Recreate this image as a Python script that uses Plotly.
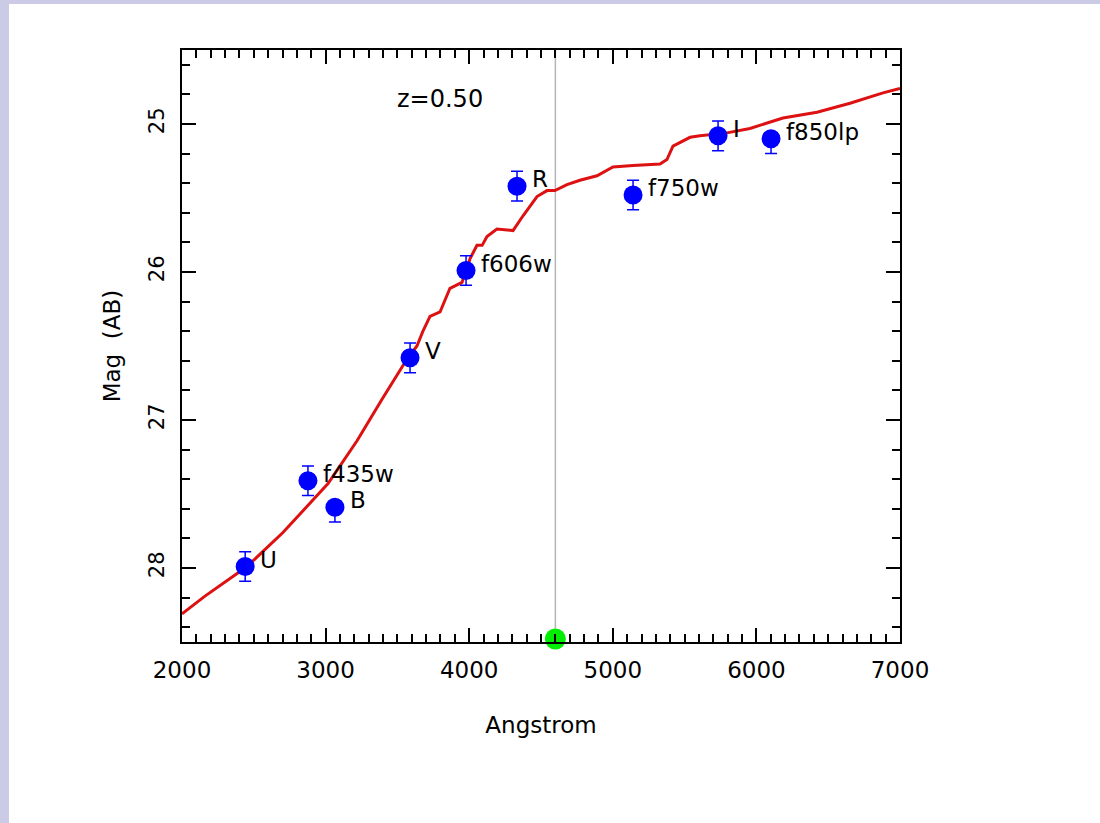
import plotly.graph_objects as go

# ---- data ----
band_names = ["U", "f435w", "B", "V", "f606w", "R", "f750w", "I", "f850lp"]
band_wave = [2440, 2877, 3065, 3588, 3978, 4333, 5141, 5733, 6102]
band_mag = [27.99, 27.41, 27.59, 26.58, 25.99, 25.42, 25.48, 25.08, 25.10]
band_err_plus = [0.10, 0.10, 0.10, 0.10, 0.10, 0.10, 0.10, 0.10, 0.10]
band_err_minus = [0.10, 0.10, 0.03, 0.10, 0.10, 0.10, 0.10, 0.10, 0.04]

model_wave = [2000, 2160, 2453, 2703, 3017, 3219, 3393, 3553, 3636, 3678, 3727,
              3797, 3866, 3950, 4006, 4054, 4090, 4124, 4193, 4305, 4375, 4472,
              4542, 4597, 4681, 4771, 4890, 5001, 5141, 5329, 5377, 5419, 5538,
              5607, 5795, 5955, 6185, 6422, 6652, 6882, 7000]
model_mag = [28.31, 28.19, 27.99, 27.76, 27.43, 27.14, 26.86, 26.61, 26.50, 26.40, 26.30,
             26.27, 26.11, 26.07, 25.91, 25.82, 25.82, 25.76, 25.71, 25.72, 25.62, 25.49,
             25.45, 25.45, 25.41, 25.38, 25.35, 25.29, 25.28, 25.27, 25.24, 25.15, 25.09,
             25.08, 25.06, 25.03, 24.96, 24.92, 24.86, 24.79, 24.76]

marker_wave = [4600]
marker_mag = [28.48]
redshift_label = "z=0.50"
redshift_pos = (3797, 24.83)

x_ticks = [2000, 3000, 4000, 5000, 6000, 7000]
y_ticks = [25, 26, 27, 28]

FONT = "DejaVu Sans"

fig = go.Figure()

fig.add_trace(go.Scatter(
    x=model_wave, y=model_mag, mode="lines",
    line=dict(color="#dd1111", width=3), hoverinfo="skip", showlegend=False))

fig.add_trace(go.Scatter(
    x=band_wave, y=band_mag, mode="markers",
    marker=dict(color="#0000ff", size=19),
    error_y=dict(type="data", symmetric=False, array=band_err_plus,
                 arrayminus=band_err_minus, color="#0000ff", thickness=1.5, width=6),
    showlegend=False))

fig.add_trace(go.Scatter(
    x=marker_wave, y=marker_mag, mode="markers",
    marker=dict(color="#00ee00", size=21), cliponaxis=False, showlegend=False))

# vertical reference line
fig.add_shape(type="line", xref="x", yref="paper", x0=marker_wave[0], x1=marker_wave[0],
              y0=0, y1=1, line=dict(color="#b4b4b4", width=1.5), layer="below")

for name, xw, ym in zip(band_names, band_wave, band_mag):
    fig.add_annotation(x=xw, y=ym, text=name, showarrow=False, xanchor="left",
                       yanchor="middle", xshift=13, yshift=7,
                       font=dict(family=FONT, size=23, color="black"))

fig.add_annotation(x=redshift_pos[0], y=redshift_pos[1], text=redshift_label,
                   showarrow=False, xanchor="center", yanchor="middle",
                   font=dict(family=FONT, size=24, color="black"))

# lavender border (left and top)
W, H = 1100, 823
L, R, T, B = 182, 200, 50, 181
pw, ph = W - L - R, H - T - B
border = "#cbcbe5"
fig.add_shape(type="rect", xref="paper", yref="paper",
              x0=(0 - L) / pw, x1=(9 - L) / pw, y0=(H - B - H) / ph, y1=(H - B - 0) / ph,
              fillcolor=border, line=dict(width=0), layer="below")
fig.add_shape(type="rect", xref="paper", yref="paper",
              x0=(0 - L) / pw, x1=(W - L) / pw, y0=(H - B - 4) / ph, y1=(H - B - 0) / ph,
              fillcolor=border, line=dict(width=0), layer="below")

axis_common = dict(showline=True, linewidth=2, linecolor="black", mirror="allticks",
                   ticks="inside", tickwidth=1.5, tickcolor="black", ticklen=14,
                   showgrid=False, zeroline=False)

fig.update_xaxes(range=[2000, 7000], tickvals=x_ticks,
                 ticktext=[str(v) for v in x_ticks],
                 minor=dict(dtick=100, tick0=2000, ticks="inside", ticklen=8,
                            tickwidth=1.5, tickcolor="black", showgrid=False),
                 tickfont=dict(family=FONT, size=23, color="black"),
                 ticklabelstandoff=6,
                 title=dict(text="Angstrom", font=dict(family=FONT, size=23, color="black"),
                            standoff=35),
                 **axis_common)
fig.update_yaxes(range=[28.5, 24.5], tickvals=y_ticks,
                 ticktext=[str(v) for v in y_ticks], tickangle=-90,
                 minor=dict(dtick=0.2, tick0=25, ticks="inside", ticklen=8,
                            tickwidth=1.5, tickcolor="black", showgrid=False),
                 tickfont=dict(family=FONT, size=21, color="black"),
                 ticklabelstandoff=8,
                 title=dict(text="Mag\u00a0 (AB)", font=dict(family=FONT, size=23, color="black"),
                            standoff=18),
                 **axis_common)

fig.update_layout(width=W, height=H, margin=dict(l=L, r=R, t=T, b=B, pad=0),
                  paper_bgcolor="white", plot_bgcolor="white", showlegend=False)

fig.write_html("out.html")
